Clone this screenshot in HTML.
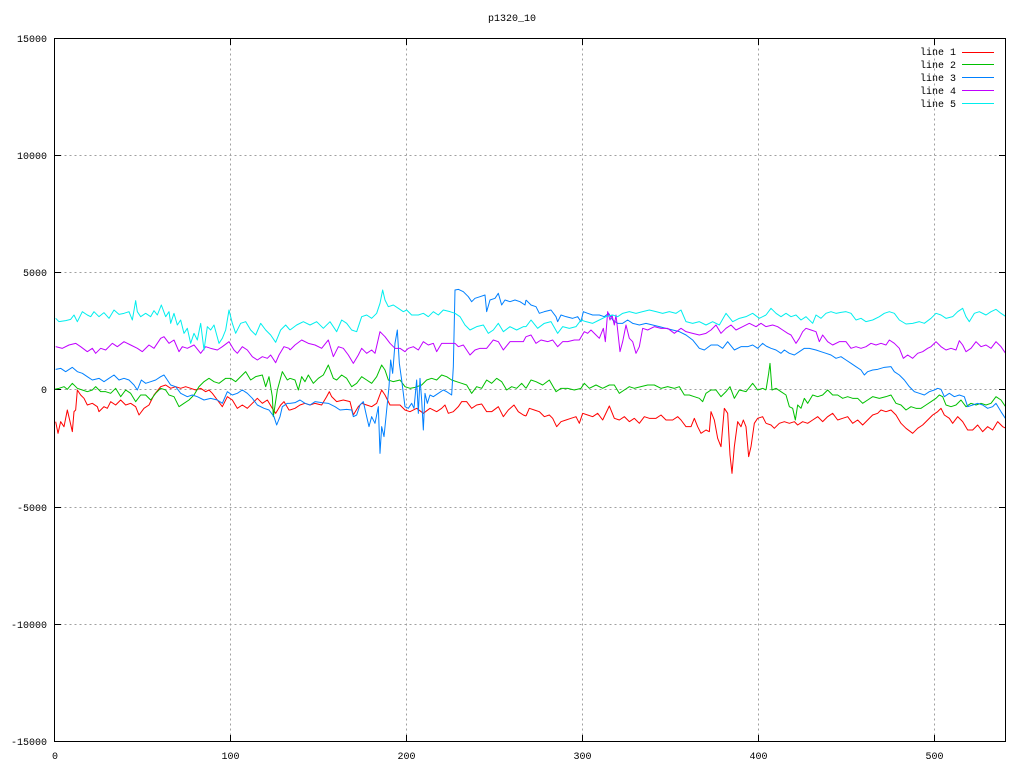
<!DOCTYPE html>
<html><head><meta charset="utf-8"><style>
html,body{margin:0;padding:0;background:#fff;}
svg{display:block;}
text{font-family:"Liberation Mono","DejaVu Sans Mono",monospace;font-size:10px;fill:#000;}
</style></head><body>
<svg width="1024" height="768" viewBox="0 0 1024 768" xmlns="http://www.w3.org/2000/svg">
<rect x="0" y="0" width="1024" height="768" fill="#fff"/>
<text x="512" y="21" text-anchor="middle">p1320_10</text>
<g stroke="#a0a0a0" stroke-width="1" stroke-dasharray="2,3" fill="none">
<line x1="230.5" y1="38.5" x2="230.5" y2="741.5"/>
<line x1="406.5" y1="38.5" x2="406.5" y2="741.5"/>
<line x1="582.5" y1="38.5" x2="582.5" y2="741.5"/>
<line x1="758.5" y1="38.5" x2="758.5" y2="741.5"/>
<line x1="934.5" y1="38.5" x2="934.5" y2="741.5"/>
<line x1="54.5" y1="155.5" x2="1005.5" y2="155.5"/>
<line x1="54.5" y1="272.5" x2="1005.5" y2="272.5"/>
<line x1="54.5" y1="389.5" x2="1005.5" y2="389.5"/>
<line x1="54.5" y1="507.5" x2="1005.5" y2="507.5"/>
<line x1="54.5" y1="624.5" x2="1005.5" y2="624.5"/>
</g>
<g stroke="#000" stroke-width="1">
<line x1="54.5" y1="155.5" x2="61" y2="155.5"/><line x1="1005.5" y1="155.5" x2="999" y2="155.5"/>
<line x1="54.5" y1="272.5" x2="61" y2="272.5"/><line x1="1005.5" y1="272.5" x2="999" y2="272.5"/>
<line x1="54.5" y1="389.5" x2="61" y2="389.5"/><line x1="1005.5" y1="389.5" x2="999" y2="389.5"/>
<line x1="54.5" y1="507.5" x2="61" y2="507.5"/><line x1="1005.5" y1="507.5" x2="999" y2="507.5"/>
<line x1="54.5" y1="624.5" x2="61" y2="624.5"/><line x1="1005.5" y1="624.5" x2="999" y2="624.5"/>
<line x1="230.5" y1="741.5" x2="230.5" y2="735"/><line x1="230.5" y1="38.5" x2="230.5" y2="45"/>
<line x1="406.5" y1="741.5" x2="406.5" y2="735"/><line x1="406.5" y1="38.5" x2="406.5" y2="45"/>
<line x1="582.5" y1="741.5" x2="582.5" y2="735"/><line x1="582.5" y1="38.5" x2="582.5" y2="45"/>
<line x1="758.5" y1="741.5" x2="758.5" y2="735"/><line x1="758.5" y1="38.5" x2="758.5" y2="45"/>
<line x1="934.5" y1="741.5" x2="934.5" y2="735"/><line x1="934.5" y1="38.5" x2="934.5" y2="45"/>
</g>
<g text-anchor="end">
<text x="47" y="42">15000</text>
<text x="47" y="159">10000</text>
<text x="47" y="276">5000</text>
<text x="47" y="393">0</text>
<text x="47" y="511">-5000</text>
<text x="47" y="628">-10000</text>
<text x="47" y="745">-15000</text>
</g>
<g text-anchor="middle">
<text x="55" y="759">0</text>
<text x="230.5" y="759">100</text>
<text x="406.5" y="759">200</text>
<text x="582.5" y="759">300</text>
<text x="758.5" y="759">400</text>
<text x="934.5" y="759">500</text>
</g>
<defs><clipPath id="pc"><rect x="55" y="39" width="950" height="702"/></clipPath></defs>
<g clip-path="url(#pc)" fill="none" stroke-width="1" stroke-linejoin="round">
<g transform="translate(54,280) scale(0.33333)">
<polyline vector-effect="non-scaling-stroke" stroke="#ff0000" points="5,425 12,460 20,425 30,440 40,390 47,420 55,455 60,395 65,390 70,330 80,345 90,355 100,375 115,370 130,380 135,395 150,380 160,385 170,365 185,375 200,360 215,375 230,370 245,380 255,405 270,385 285,375 300,345 320,320 335,315 350,325 365,320 380,325 395,320 410,325 425,330 440,325 455,335 465,330 475,340 490,360 505,380 520,350 535,360 550,385 565,375 580,385 595,370 610,355 625,370 640,360 655,385 665,400 680,375 690,365 705,390 708,390"/>
<polyline vector-effect="non-scaling-stroke" stroke="#00c000" points="0,328 15,325 30,320 40,328 55,310 70,325 85,330 100,335 115,330 125,320 140,335 155,335 170,340 185,325 200,350 215,330 230,340 245,365 260,345 275,345 290,360 305,340 320,325 335,330 345,345 360,350 375,380 390,370 405,360 420,345 435,320 450,305 465,295 480,305 495,310 515,295 530,295 545,305 560,290 575,275 590,300 605,290 625,285 635,320 645,290 655,350 658,410 670,330 685,275 700,300 708,295"/>
<polyline vector-effect="non-scaling-stroke" stroke="#0080ff" points="5,268 20,265 35,275 55,262 70,275 85,280 100,290 115,300 135,295 150,305 165,295 180,285 195,300 210,295 225,300 240,315 250,330 262,300 275,310 290,305 305,300 320,290 330,285 340,300 350,315 365,320 380,340 400,350 415,345 430,350 450,360 470,355 490,360 505,370 520,335 535,345 550,340 565,330 580,340 595,355 610,375 630,385 645,390 660,410 668,435 678,410 685,380 700,370 708,370"/>
<polyline vector-effect="non-scaling-stroke" stroke="#c000ff" points="5,200 25,205 45,195 65,190 80,200 100,215 115,205 125,220 140,205 155,210 175,190 190,200 210,185 230,195 250,205 265,215 285,195 300,205 320,175 330,170 345,190 360,180 375,215 385,200 400,205 420,195 440,220 455,200 470,205 490,210 505,200 525,185 540,210 550,220 565,200 580,210 595,230 610,240 625,230 640,235 650,225 665,248 675,225 690,200 705,205 708,210"/>
<polyline vector-effect="non-scaling-stroke" stroke="#00eeee" points="5,115 15,125 35,122 50,118 60,105 70,125 85,95 100,105 110,110 120,95 135,110 150,98 165,115 180,90 195,103 210,100 225,95 235,120 245,62 250,95 260,110 275,100 290,110 300,92 310,105 322,75 335,110 345,95 350,130 360,100 370,135 380,120 390,160 400,145 410,190 420,160 430,180 440,130 450,210 460,140 470,150 480,135 495,190 505,175 515,150 525,90 535,130 545,160 560,130 575,125 590,150 605,165 620,130 635,150 650,165 665,187 680,150 695,135 708,150"/>
</g>
<g transform="translate(290,280) scale(0.33333)">
<polyline vector-effect="non-scaling-stroke" stroke="#ff0000" points="0,390 15,385 30,375 45,370 60,375 75,370 95,375 110,350 118,335 125,350 140,365 160,360 180,365 190,405 205,380 215,370 230,375 245,380 260,370 275,330 285,345 300,375 315,375 330,375 345,390 360,395 380,385 400,400 420,385 440,395 455,385 465,375 475,400 490,395 505,380 515,365 530,365 545,385 560,375 575,372 590,395 605,395 625,380 640,410 655,390 672,375 685,395 700,405 708,408"/>
<polyline vector-effect="non-scaling-stroke" stroke="#00c000" points="0,295 15,300 25,330 35,290 45,305 55,285 70,310 85,295 100,285 115,255 130,295 140,300 155,285 170,295 185,320 200,310 215,290 230,300 245,310 260,290 275,255 285,270 295,300 310,305 330,300 345,320 360,325 375,322 395,315 410,300 425,295 440,300 455,285 470,290 485,300 500,305 515,310 530,315 545,340 560,320 575,325 590,300 605,310 620,295 635,305 650,330 665,320 680,325 695,310 708,325"/>
<polyline vector-effect="non-scaling-stroke" stroke="#0080ff" points="0,370 15,368 30,360 45,370 60,375 75,365 95,368 115,370 135,380 150,390 170,388 185,390 190,410 200,405 210,375 220,365 230,410 237,440 245,410 255,430 265,380 270,520 275,440 282,470 290,390 297,320 302,240 308,280 315,190 322,150 328,250 335,300 345,380 355,385 365,370 372,385 380,300 385,400 390,295 395,360 400,450 405,340 412,370 420,345 430,350 445,340 460,330 470,335 485,345 490,260 495,30 505,28 520,35 535,50 545,65 555,55 570,50 585,45 590,95 600,60 615,55 625,40 635,75 645,60 660,65 675,60 690,65 705,75 708,60"/>
<polyline vector-effect="non-scaling-stroke" stroke="#c000ff" points="0,210 15,195 35,180 55,190 75,195 95,205 115,180 130,230 145,200 160,205 175,225 190,250 205,225 215,205 230,220 245,210 255,220 270,155 285,170 300,190 315,205 330,205 345,215 355,205 370,200 385,210 400,185 415,195 430,190 440,215 455,190 475,190 495,190 505,200 520,195 540,225 555,210 570,205 590,205 610,180 625,185 640,210 660,185 680,185 700,185 708,170"/>
<polyline vector-effect="non-scaling-stroke" stroke="#00eeee" points="0,150 20,135 40,125 60,135 80,125 100,145 120,125 140,155 155,120 170,130 185,150 200,155 215,110 230,105 245,115 260,100 270,70 278,30 285,60 295,80 310,75 325,85 340,95 350,90 365,105 385,105 400,100 415,110 430,95 445,105 460,90 480,95 495,100 510,110 525,135 540,150 560,140 580,135 595,160 610,150 625,130 640,155 660,140 680,150 700,140 708,140"/>
</g>
<g transform="translate(526,280) scale(0.33333)">
<polyline vector-effect="non-scaling-stroke" stroke="#ff0000" points="0,408 10,385 25,390 40,395 55,410 70,405 80,415 92,440 105,425 120,420 135,415 150,410 160,430 170,400 185,405 200,410 215,400 230,420 250,378 265,415 280,420 295,410 310,425 325,415 340,430 355,410 370,415 390,415 405,405 420,420 440,420 455,410 465,420 480,440 495,440 505,415 515,440 525,460 540,450 550,455 555,395 565,420 575,475 585,500 595,385 605,400 612,525 618,580 625,500 635,425 645,440 652,420 660,440 668,530 675,500 685,430 695,415 710,410 720,430"/>
<polyline vector-effect="non-scaling-stroke" stroke="#00c000" points="0,325 15,300 30,305 50,315 70,300 90,335 105,325 125,325 145,330 165,325 175,310 190,325 210,315 230,325 250,315 265,315 280,340 295,330 310,320 325,325 345,320 365,315 385,315 405,325 425,320 445,325 460,320 475,345 490,345 505,350 520,355 530,365 540,340 555,330 570,330 585,350 600,335 612,320 625,355 640,330 660,335 680,310 695,330 710,325 720,330"/>
<polyline vector-effect="non-scaling-stroke" stroke="#0080ff" points="0,60 15,75 30,80 40,100 55,95 75,90 90,110 95,125 105,105 120,110 140,115 155,110 165,125 172,95 185,100 200,105 220,105 235,110 248,100 260,120 275,130 290,130 305,120 320,130 340,135 360,130 380,135 400,140 420,145 440,150 460,155 480,165 500,180 520,205 535,210 555,195 575,195 590,205 605,185 625,210 645,200 665,200 680,195 695,205 710,190 720,198"/>
<polyline vector-effect="non-scaling-stroke" stroke="#c000ff" points="0,170 15,165 30,190 45,180 65,185 80,180 95,200 110,185 125,185 145,180 160,180 175,155 185,160 195,150 210,165 220,175 232,145 238,185 245,95 252,120 258,105 265,135 270,105 282,215 290,185 300,135 310,175 320,185 330,220 340,200 350,145 365,150 385,140 405,145 425,145 445,160 465,145 480,155 500,160 520,165 540,160 555,150 570,135 585,160 600,145 615,135 630,150 650,140 670,130 690,140 705,130 720,140"/>
<polyline vector-effect="non-scaling-stroke" stroke="#00eeee" points="0,140 15,120 35,145 55,130 75,125 95,160 110,140 130,145 150,140 165,120 180,125 200,130 220,120 240,110 260,105 275,110 290,100 310,95 330,100 350,95 370,90 390,95 410,100 430,95 450,100 465,90 480,125 500,130 520,125 540,135 560,125 580,135 600,100 620,125 640,115 660,110 680,100 700,115 720,105"/>
</g>
<g transform="translate(766,280) scale(0.33333)">
<polyline vector-effect="non-scaling-stroke" stroke="#ff0000" points="0,430 15,435 25,445 40,430 55,425 70,430 85,425 95,435 110,425 125,430 140,420 155,410 170,425 185,410 200,400 215,420 230,415 245,410 260,430 275,420 290,435 305,420 320,405 335,400 345,390 360,395 375,390 390,405 405,430 420,445 440,460 455,445 470,435 485,420 500,405 515,395 525,385 535,405 550,415 560,430 575,410 590,425 605,450 620,450 635,435 650,455 665,440 680,450 695,425 710,440 720,445"/>
<polyline vector-effect="non-scaling-stroke" stroke="#00c000" points="0,330 8,280 12,250 18,330 30,325 45,335 60,345 70,380 80,385 88,420 95,375 105,385 115,355 125,370 140,345 155,350 170,345 185,330 200,345 215,345 230,355 245,350 260,355 275,355 290,370 305,360 320,350 340,355 360,350 375,345 390,370 405,375 420,390 435,380 450,385 465,385 480,375 495,365 510,355 520,345 530,350 540,375 555,380 570,375 585,360 600,380 615,370 630,375 645,370 660,375 675,370 690,350 705,360 720,382"/>
<polyline vector-effect="non-scaling-stroke" stroke="#0080ff" points="0,198 15,205 30,210 45,220 55,210 70,220 85,225 100,215 115,205 130,205 150,210 165,215 180,220 195,225 210,235 225,230 240,240 255,250 270,260 285,270 295,285 305,275 320,270 335,268 355,262 375,260 385,275 400,285 415,300 430,320 445,335 460,340 475,345 490,335 505,330 515,325 525,328 535,350 550,340 565,350 580,345 595,350 605,380 620,375 635,370 650,375 665,385 680,380 690,370 705,395 720,418"/>
<polyline vector-effect="non-scaling-stroke" stroke="#c000ff" points="0,140 20,135 35,140 50,150 65,160 75,165 90,190 100,175 110,155 120,145 135,150 150,155 160,185 170,165 185,185 200,195 220,185 240,185 255,205 270,200 285,205 300,200 315,190 330,195 345,190 360,195 370,180 385,190 400,205 412,235 425,225 440,235 455,220 470,215 485,205 495,200 510,185 525,200 540,210 555,205 570,210 580,182 590,195 600,215 615,205 630,185 645,200 660,195 675,205 690,185 705,200 720,222"/>
<polyline vector-effect="non-scaling-stroke" stroke="#00eeee" points="0,105 15,85 30,100 45,110 60,100 75,110 90,105 105,120 120,110 140,130 150,105 165,115 180,100 195,95 210,100 225,97 240,95 255,100 270,120 285,115 300,125 320,120 340,110 355,100 370,95 385,100 400,120 420,132 440,130 460,125 475,130 495,115 510,100 525,105 540,115 560,110 575,95 590,85 600,110 610,125 625,100 640,95 660,105 675,95 690,88 705,100 720,110"/>
</g>
</g>
<rect x="54.5" y="38.5" width="951" height="703" fill="none" stroke="#000" stroke-width="1"/>
<g text-anchor="end">
<text x="956" y="55">line 1</text>
<text x="956" y="68">line 2</text>
<text x="956" y="81">line 3</text>
<text x="956" y="94">line 4</text>
<text x="956" y="107">line 5</text>
</g>
<g stroke-width="1">
<line x1="962" y1="52.5" x2="994" y2="52.5" stroke="#ff0000"/>
<line x1="962" y1="64.5" x2="994" y2="64.5" stroke="#00c000"/>
<line x1="962" y1="77.5" x2="994" y2="77.5" stroke="#0080ff"/>
<line x1="962" y1="90.5" x2="994" y2="90.5" stroke="#c000ff"/>
<line x1="962" y1="103.5" x2="994" y2="103.5" stroke="#00eeee"/>
</g>
</svg>
</body></html>
